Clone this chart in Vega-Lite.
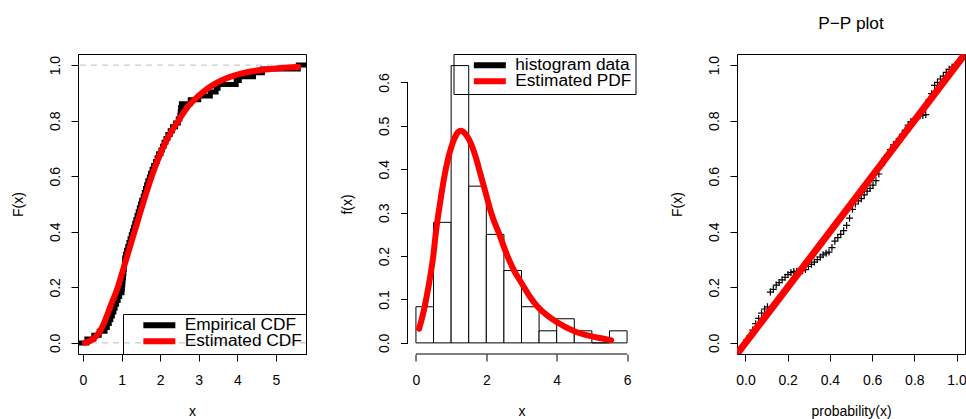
{
  "$schema": "https://vega.github.io/schema/vega-lite/v6.json",
  "background": "white",
  "padding": {"left": 10, "top": 14, "right": 0, "bottom": 0},
  "spacing": 101.5,
  "bounds": "flush",
  "config": {
    "font": "Liberation Sans",
    "view": {"stroke": "black", "strokeWidth": 1},
    "axis": {"grid": false, "domain": false, "ticks": true, "tickColor": "black", "tickSize": 7, "tickWidth": 1, "labelColor": "black", "labelFont": "Liberation Sans", "labelFontSize": 14, "labelFlush": false, "labelOverlap": false, "labelBound": false, "titleFont": "Liberation Sans", "titleFontSize": 14, "titleFontWeight": "normal", "titleColor": "black"},
    "axisX": {"labelAngle": 0, "labelAlign": "center", "labelBaseline": "alphabetic", "labelPadding": 23, "titleX": 114, "titleY": 61, "titleAlign": "center", "titleBaseline": "alphabetic", "titleAngle": 0},
    "axisY": {"labelAngle": 270, "labelAlign": "center", "labelBaseline": "alphabetic", "labelPadding": 12, "titleX": -60, "titleY": 150, "titleAngle": 270, "titleAlign": "center", "titleBaseline": "middle"},
    "legend": {"offset": 0, "padding": 4, "strokeColor": "black", "strokeWidth": 1, "fillColor": null, "labelFont": "Liberation Sans", "labelFontSize": 17.3, "labelColor": "black", "symbolType": "M-3.2,0H3.2", "symbolSize": 100, "symbolStrokeWidth": 6, "symbolOffset": 23.7, "labelOffset": 16.7, "rowPadding": -4, "clipHeight": 14.4, "cornerRadius": 0}
  },
  "resolve": {"scale": {"color": "independent"}, "legend": {"color": "independent"}},
  "datasets": {
    "hlines": [{"y": 0}, {"y": 1}],
    "ecdf": [
      {"x": -0.13, "y": 0, "s": "Empirical CDF"},
      {"x": 0.10, "y": 0.0139, "s": "Empirical CDF"},
      {"x": 0.28, "y": 0.0278, "s": "Empirical CDF"},
      {"x": 0.42, "y": 0.0417, "s": "Empirical CDF"},
      {"x": 0.57, "y": 0.0556, "s": "Empirical CDF"},
      {"x": 0.63, "y": 0.0694, "s": "Empirical CDF"},
      {"x": 0.68, "y": 0.0833, "s": "Empirical CDF"},
      {"x": 0.72, "y": 0.0972, "s": "Empirical CDF"},
      {"x": 0.76, "y": 0.1111, "s": "Empirical CDF"},
      {"x": 0.80, "y": 0.1250, "s": "Empirical CDF"},
      {"x": 0.83, "y": 0.1389, "s": "Empirical CDF"},
      {"x": 0.87, "y": 0.1528, "s": "Empirical CDF"},
      {"x": 0.91, "y": 0.1667, "s": "Empirical CDF"},
      {"x": 0.95, "y": 0.1806, "s": "Empirical CDF"},
      {"x": 1.01, "y": 0.1944, "s": "Empirical CDF"},
      {"x": 1.02, "y": 0.2083, "s": "Empirical CDF"},
      {"x": 1.03, "y": 0.2222, "s": "Empirical CDF"},
      {"x": 1.04, "y": 0.2361, "s": "Empirical CDF"},
      {"x": 1.05, "y": 0.2500, "s": "Empirical CDF"},
      {"x": 1.06, "y": 0.2639, "s": "Empirical CDF"},
      {"x": 1.07, "y": 0.2778, "s": "Empirical CDF"},
      {"x": 1.075, "y": 0.2917, "s": "Empirical CDF"},
      {"x": 1.08, "y": 0.3056, "s": "Empirical CDF"},
      {"x": 1.10, "y": 0.3194, "s": "Empirical CDF"},
      {"x": 1.13, "y": 0.3333, "s": "Empirical CDF"},
      {"x": 1.16, "y": 0.3472, "s": "Empirical CDF"},
      {"x": 1.19, "y": 0.3611, "s": "Empirical CDF"},
      {"x": 1.22, "y": 0.3750, "s": "Empirical CDF"},
      {"x": 1.25, "y": 0.3889, "s": "Empirical CDF"},
      {"x": 1.28, "y": 0.4028, "s": "Empirical CDF"},
      {"x": 1.31, "y": 0.4167, "s": "Empirical CDF"},
      {"x": 1.34, "y": 0.4306, "s": "Empirical CDF"},
      {"x": 1.37, "y": 0.4444, "s": "Empirical CDF"},
      {"x": 1.40, "y": 0.4583, "s": "Empirical CDF"},
      {"x": 1.43, "y": 0.4722, "s": "Empirical CDF"},
      {"x": 1.46, "y": 0.4861, "s": "Empirical CDF"},
      {"x": 1.49, "y": 0.5000, "s": "Empirical CDF"},
      {"x": 1.52, "y": 0.5139, "s": "Empirical CDF"},
      {"x": 1.56, "y": 0.5278, "s": "Empirical CDF"},
      {"x": 1.59, "y": 0.5417, "s": "Empirical CDF"},
      {"x": 1.62, "y": 0.5556, "s": "Empirical CDF"},
      {"x": 1.65, "y": 0.5694, "s": "Empirical CDF"},
      {"x": 1.68, "y": 0.5833, "s": "Empirical CDF"},
      {"x": 1.72, "y": 0.5972, "s": "Empirical CDF"},
      {"x": 1.75, "y": 0.6111, "s": "Empirical CDF"},
      {"x": 1.79, "y": 0.6250, "s": "Empirical CDF"},
      {"x": 1.83, "y": 0.6389, "s": "Empirical CDF"},
      {"x": 1.88, "y": 0.6528, "s": "Empirical CDF"},
      {"x": 1.92, "y": 0.6667, "s": "Empirical CDF"},
      {"x": 1.96, "y": 0.6806, "s": "Empirical CDF"},
      {"x": 2.02, "y": 0.6944, "s": "Empirical CDF"},
      {"x": 2.06, "y": 0.7083, "s": "Empirical CDF"},
      {"x": 2.10, "y": 0.7222, "s": "Empirical CDF"},
      {"x": 2.15, "y": 0.7361, "s": "Empirical CDF"},
      {"x": 2.20, "y": 0.7500, "s": "Empirical CDF"},
      {"x": 2.26, "y": 0.7639, "s": "Empirical CDF"},
      {"x": 2.32, "y": 0.7778, "s": "Empirical CDF"},
      {"x": 2.40, "y": 0.7917, "s": "Empirical CDF"},
      {"x": 2.47, "y": 0.8056, "s": "Empirical CDF"},
      {"x": 2.51, "y": 0.8194, "s": "Empirical CDF"},
      {"x": 2.52, "y": 0.8333, "s": "Empirical CDF"},
      {"x": 2.53, "y": 0.8472, "s": "Empirical CDF"},
      {"x": 2.55, "y": 0.8611, "s": "Empirical CDF"},
      {"x": 2.78, "y": 0.8750, "s": "Empirical CDF"},
      {"x": 3.00, "y": 0.8889, "s": "Empirical CDF"},
      {"x": 3.30, "y": 0.9028, "s": "Empirical CDF"},
      {"x": 3.45, "y": 0.9167, "s": "Empirical CDF"},
      {"x": 3.50, "y": 0.9306, "s": "Empirical CDF"},
      {"x": 3.97, "y": 0.9444, "s": "Empirical CDF"},
      {"x": 4.05, "y": 0.9583, "s": "Empirical CDF"},
      {"x": 4.42, "y": 0.9722, "s": "Empirical CDF"},
      {"x": 4.65, "y": 0.9861, "s": "Empirical CDF"},
      {"x": 5.58, "y": 1.0, "s": "Empirical CDF"},
      {"x": 5.78, "y": 1.0, "s": "Empirical CDF"}
    ],
    "cdf": [
      {"x": 0.05, "y": 0.001, "s": "Estimated CDF"},
      {"x": 0.2, "y": 0.008, "s": "Estimated CDF"},
      {"x": 0.35, "y": 0.025, "s": "Estimated CDF"},
      {"x": 0.5, "y": 0.058, "s": "Estimated CDF"},
      {"x": 0.72, "y": 0.135, "s": "Estimated CDF"},
      {"x": 0.9, "y": 0.2, "s": "Estimated CDF"},
      {"x": 1.02, "y": 0.255, "s": "Estimated CDF"},
      {"x": 1.15, "y": 0.315, "s": "Estimated CDF"},
      {"x": 1.28, "y": 0.375, "s": "Estimated CDF"},
      {"x": 1.41, "y": 0.435, "s": "Estimated CDF"},
      {"x": 1.54, "y": 0.495, "s": "Estimated CDF"},
      {"x": 1.68, "y": 0.557, "s": "Estimated CDF"},
      {"x": 1.82, "y": 0.615, "s": "Estimated CDF"},
      {"x": 2.0, "y": 0.68, "s": "Estimated CDF"},
      {"x": 2.19, "y": 0.736, "s": "Estimated CDF"},
      {"x": 2.45, "y": 0.795, "s": "Estimated CDF"},
      {"x": 2.75, "y": 0.856, "s": "Estimated CDF"},
      {"x": 3.0, "y": 0.89, "s": "Estimated CDF"},
      {"x": 3.23, "y": 0.916, "s": "Estimated CDF"},
      {"x": 3.46, "y": 0.936, "s": "Estimated CDF"},
      {"x": 3.7, "y": 0.952, "s": "Estimated CDF"},
      {"x": 4.0, "y": 0.966, "s": "Estimated CDF"},
      {"x": 4.31, "y": 0.976, "s": "Estimated CDF"},
      {"x": 4.65, "y": 0.983, "s": "Estimated CDF"},
      {"x": 5.0, "y": 0.988, "s": "Estimated CDF"},
      {"x": 5.3, "y": 0.991, "s": "Estimated CDF"},
      {"x": 5.58, "y": 0.993, "s": "Estimated CDF"}
    ],
    "hist": [
      {"x": 0.0, "xe": 0.5, "y": 0.0833},
      {"x": 0.5, "xe": 1.0, "y": 0.2778},
      {"x": 1.0, "xe": 1.5, "y": 0.6389},
      {"x": 1.5, "xe": 2.0, "y": 0.3611},
      {"x": 2.0, "xe": 2.5, "y": 0.25},
      {"x": 2.5, "xe": 3.0, "y": 0.1667},
      {"x": 3.0, "xe": 3.5, "y": 0.0833},
      {"x": 3.5, "xe": 4.0, "y": 0.0278},
      {"x": 4.0, "xe": 4.5, "y": 0.0556},
      {"x": 4.5, "xe": 5.0, "y": 0.0278},
      {"x": 5.0, "xe": 5.5, "y": 0.0},
      {"x": 5.5, "xe": 6.0, "y": 0.0278}
    ],
    "pdf": [
      {"x": 0.09, "y": 0.033, "s": "Estimated PDF"},
      {"x": 0.2, "y": 0.066, "s": "Estimated PDF"},
      {"x": 0.3, "y": 0.105, "s": "Estimated PDF"},
      {"x": 0.4, "y": 0.15, "s": "Estimated PDF"},
      {"x": 0.5, "y": 0.205, "s": "Estimated PDF"},
      {"x": 0.56, "y": 0.25, "s": "Estimated PDF"},
      {"x": 0.7, "y": 0.33, "s": "Estimated PDF"},
      {"x": 0.8, "y": 0.38, "s": "Estimated PDF"},
      {"x": 0.9, "y": 0.42, "s": "Estimated PDF"},
      {"x": 1.0, "y": 0.45, "s": "Estimated PDF"},
      {"x": 1.1, "y": 0.472, "s": "Estimated PDF"},
      {"x": 1.2, "y": 0.486, "s": "Estimated PDF"},
      {"x": 1.28, "y": 0.489, "s": "Estimated PDF"},
      {"x": 1.4, "y": 0.482, "s": "Estimated PDF"},
      {"x": 1.5, "y": 0.47, "s": "Estimated PDF"},
      {"x": 1.6, "y": 0.452, "s": "Estimated PDF"},
      {"x": 1.7, "y": 0.428, "s": "Estimated PDF"},
      {"x": 1.83, "y": 0.39, "s": "Estimated PDF"},
      {"x": 2.0, "y": 0.34, "s": "Estimated PDF"},
      {"x": 2.1, "y": 0.31, "s": "Estimated PDF"},
      {"x": 2.2, "y": 0.285, "s": "Estimated PDF"},
      {"x": 2.37, "y": 0.25, "s": "Estimated PDF"},
      {"x": 2.6, "y": 0.2, "s": "Estimated PDF"},
      {"x": 2.8, "y": 0.165, "s": "Estimated PDF"},
      {"x": 3.0, "y": 0.138, "s": "Estimated PDF"},
      {"x": 3.25, "y": 0.105, "s": "Estimated PDF"},
      {"x": 3.46, "y": 0.083, "s": "Estimated PDF"},
      {"x": 3.75, "y": 0.062, "s": "Estimated PDF"},
      {"x": 4.0, "y": 0.048, "s": "Estimated PDF"},
      {"x": 4.5, "y": 0.027, "s": "Estimated PDF"},
      {"x": 5.0, "y": 0.015, "s": "Estimated PDF"},
      {"x": 5.3, "y": 0.01, "s": "Estimated PDF"},
      {"x": 5.55, "y": 0.006, "s": "Estimated PDF"}
    ],
    "pp": [
      {"x": 0.0069, "y": 0.011}, {"x": 0.0208, "y": 0.025}, {"x": 0.0347, "y": 0.046}, {"x": 0.0486, "y": 0.069},
      {"x": 0.0625, "y": 0.088}, {"x": 0.0764, "y": 0.107}, {"x": 0.0903, "y": 0.122}, {"x": 0.1042, "y": 0.130},
      {"x": 0.1181, "y": 0.183}, {"x": 0.1319, "y": 0.193}, {"x": 0.1458, "y": 0.208}, {"x": 0.1597, "y": 0.217},
      {"x": 0.1736, "y": 0.227}, {"x": 0.1875, "y": 0.236}, {"x": 0.2014, "y": 0.246}, {"x": 0.2153, "y": 0.253},
      {"x": 0.2292, "y": 0.257}, {"x": 0.2431, "y": 0.258}, {"x": 0.2569, "y": 0.259}, {"x": 0.2708, "y": 0.260},
      {"x": 0.2847, "y": 0.264}, {"x": 0.2986, "y": 0.275}, {"x": 0.3125, "y": 0.283}, {"x": 0.3264, "y": 0.291},
      {"x": 0.3403, "y": 0.300}, {"x": 0.3542, "y": 0.309}, {"x": 0.3681, "y": 0.317}, {"x": 0.3819, "y": 0.323},
      {"x": 0.3958, "y": 0.327}, {"x": 0.4097, "y": 0.343}, {"x": 0.4236, "y": 0.366}, {"x": 0.4375, "y": 0.379},
      {"x": 0.4514, "y": 0.391}, {"x": 0.4653, "y": 0.404}, {"x": 0.4792, "y": 0.423}, {"x": 0.4931, "y": 0.449},
      {"x": 0.5069, "y": 0.481}, {"x": 0.5208, "y": 0.500}, {"x": 0.5347, "y": 0.511}, {"x": 0.5486, "y": 0.519},
      {"x": 0.5625, "y": 0.533}, {"x": 0.5764, "y": 0.546}, {"x": 0.5903, "y": 0.556}, {"x": 0.6042, "y": 0.568},
      {"x": 0.6181, "y": 0.584}, {"x": 0.6319, "y": 0.608}, {"x": 0.6458, "y": 0.640}, {"x": 0.6597, "y": 0.664},
      {"x": 0.6736, "y": 0.677}, {"x": 0.6875, "y": 0.696}, {"x": 0.7014, "y": 0.713}, {"x": 0.7153, "y": 0.723},
      {"x": 0.7292, "y": 0.735}, {"x": 0.7431, "y": 0.751}, {"x": 0.7569, "y": 0.766}, {"x": 0.7708, "y": 0.784},
      {"x": 0.7847, "y": 0.797}, {"x": 0.7986, "y": 0.804}, {"x": 0.8125, "y": 0.811}, {"x": 0.8264, "y": 0.818},
      {"x": 0.8403, "y": 0.819}, {"x": 0.8542, "y": 0.822}, {"x": 0.8681, "y": 0.874}, {"x": 0.8819, "y": 0.897},
      {"x": 0.8958, "y": 0.927}, {"x": 0.9097, "y": 0.938}, {"x": 0.9236, "y": 0.950}, {"x": 0.9375, "y": 0.960},
      {"x": 0.9514, "y": 0.974}, {"x": 0.9653, "y": 0.985}, {"x": 0.9792, "y": 0.993}, {"x": 0.9931, "y": 0.999}
    ],
    "diag": [{"x": -0.04, "y": -0.04}, {"x": 1.04, "y": 1.04}]
  },
  "hconcat": [
    {
      "width": 228,
      "height": 300,
      "layer": [
        {
          "data": {"name": "hlines"},
          "mark": {"type": "rule", "color": "#BEBEBE", "strokeDash": [6, 5], "strokeWidth": 1},
          "encoding": {
            "y": {"field": "y", "type": "quantitative", "scale": {"domain": [-0.04, 1.04], "nice": false, "zero": false}, "axis": {"values": [0, 0.2, 0.4, 0.6, 0.8, 1], "format": ".1f", "title": "F(x)"}}
          }
        },
        {
          "data": {"name": "ecdf"},
          "mark": {"type": "line", "interpolate": "step-after", "strokeWidth": 5, "clip": true},
          "encoding": {
            "x": {"field": "x", "type": "quantitative", "scale": {"domain": [-0.13, 5.78], "nice": false, "zero": false}, "axis": {"values": [0, 1, 2, 3, 4, 5], "format": "d", "title": "x"}},
            "y": {"field": "y", "type": "quantitative", "scale": {"domain": [-0.04, 1.04], "nice": false, "zero": false}, "axis": {"values": [0, 0.2, 0.4, 0.6, 0.8, 1], "format": ".1f", "title": "F(x)"}},
            "color": {"field": "s", "type": "nominal", "scale": {"domain": ["Empirical CDF", "Estimated CDF"], "range": ["black", "red"]}, "legend": {"orient": "bottom-right", "title": null}}
          }
        },
        {
          "data": {"name": "cdf"},
          "mark": {"type": "line", "interpolate": "monotone", "strokeWidth": 6, "strokeCap": "round", "clip": true},
          "encoding": {
            "x": {"field": "x", "type": "quantitative", "scale": {"domain": [-0.13, 5.78], "nice": false, "zero": false}, "axis": {"values": [0, 1, 2, 3, 4, 5], "format": "d", "title": "x"}},
            "y": {"field": "y", "type": "quantitative", "scale": {"domain": [-0.04, 1.04], "nice": false, "zero": false}, "axis": {"values": [0, 0.2, 0.4, 0.6, 0.8, 1], "format": ".1f", "title": "F(x)"}},
            "color": {"field": "s", "type": "nominal", "scale": {"domain": ["Empirical CDF", "Estimated CDF"], "range": ["black", "red"]}, "legend": {"orient": "bottom-right", "title": null}}
          }
        }
      ]
    },
    {
      "width": 228,
      "height": 300,
      "view": {"stroke": null},
      "layer": [
        {
          "data": {"name": "hist"},
          "mark": {"type": "rect", "fill": "white", "stroke": "black", "strokeWidth": 1},
          "encoding": {
            "x": {"field": "x", "type": "quantitative", "scale": {"domain": [-0.24, 6.24], "nice": false, "zero": false}, "axis": {"values": [0, 1, 2, 3, 4, 5, 6], "format": "d", "title": "x"}},
            "x2": {"field": "xe"},
            "y": {"field": "y", "type": "quantitative", "scale": {"domain": [-0.0256, 0.6656], "nice": false, "zero": false}, "axis": {"values": [0, 0.1, 0.2, 0.3, 0.4, 0.5, 0.6], "format": ".1f", "title": "f(x)"}},
            "y2": {"datum": 0}
          }
        },
        {
          "data": {"name": "pdf"},
          "mark": {"type": "line", "interpolate": "monotone", "strokeWidth": 6, "strokeCap": "round"},
          "encoding": {
            "x": {"field": "x", "type": "quantitative", "scale": {"domain": [-0.24, 6.24], "nice": false, "zero": false}, "axis": {"values": [0, 1, 2, 3, 4, 5, 6], "format": "d", "title": "x"}},
            "y": {"field": "y", "type": "quantitative", "scale": {"domain": [-0.0256, 0.6656], "nice": false, "zero": false}, "axis": {"values": [0, 0.1, 0.2, 0.3, 0.4, 0.5, 0.6], "format": ".1f", "title": "f(x)"}},
            "color": {"field": "s", "type": "nominal", "scale": {"domain": ["histogram data", "Estimated PDF"], "range": ["black", "red"]}, "legend": {"orient": "top-right", "title": null}}
          }
        },
        {
          "data": {"values": [{}]},
          "mark": {"type": "rule", "color": "black", "strokeWidth": 1},
          "encoding": {
            "x": {"datum": 0, "type": "quantitative"},
            "x2": {"datum": 6},
            "y": {"datum": -0.0256, "type": "quantitative"}
          }
        },
        {
          "data": {"values": [{}]},
          "mark": {"type": "rule", "color": "black", "strokeWidth": 1},
          "encoding": {
            "x": {"datum": -0.24, "type": "quantitative"},
            "y": {"datum": 0, "type": "quantitative"},
            "y2": {"datum": 0.6}
          }
        }
      ]
    },
    {
      "width": 228,
      "height": 300,
      "title": {"text": "P−P plot", "font": "Liberation Sans", "fontSize": 17.3, "fontWeight": "normal", "color": "black", "anchor": "middle", "baseline": "alphabetic", "frame": "group", "offset": 8},
      "layer": [
        {
          "data": {"name": "pp"},
          "mark": {"type": "point", "shape": "M-1,0H1M0,-1V1", "size": 49, "filled": false, "stroke": "black", "strokeWidth": 1.2, "opacity": 1},
          "encoding": {
            "x": {"field": "x", "type": "quantitative", "scale": {"domain": [-0.04, 1.04], "nice": false, "zero": false}, "axis": {"values": [0, 0.2, 0.4, 0.6, 0.8, 1], "format": ".1f", "title": "probability(x)"}},
            "y": {"field": "y", "type": "quantitative", "scale": {"domain": [-0.04, 1.04], "nice": false, "zero": false}, "axis": {"values": [0, 0.2, 0.4, 0.6, 0.8, 1], "format": ".1f", "title": "F(x)"}}
          }
        },
        {
          "data": {"name": "diag"},
          "mark": {"type": "line", "color": "red", "strokeWidth": 7, "clip": true},
          "encoding": {
            "x": {"field": "x", "type": "quantitative", "scale": {"domain": [-0.04, 1.04], "nice": false, "zero": false}, "axis": {"values": [0, 0.2, 0.4, 0.6, 0.8, 1], "format": ".1f", "title": "probability(x)"}},
            "y": {"field": "y", "type": "quantitative", "scale": {"domain": [-0.04, 1.04], "nice": false, "zero": false}, "axis": {"values": [0, 0.2, 0.4, 0.6, 0.8, 1], "format": ".1f", "title": "F(x)"}}
          }
        }
      ]
    }
  ]
}
